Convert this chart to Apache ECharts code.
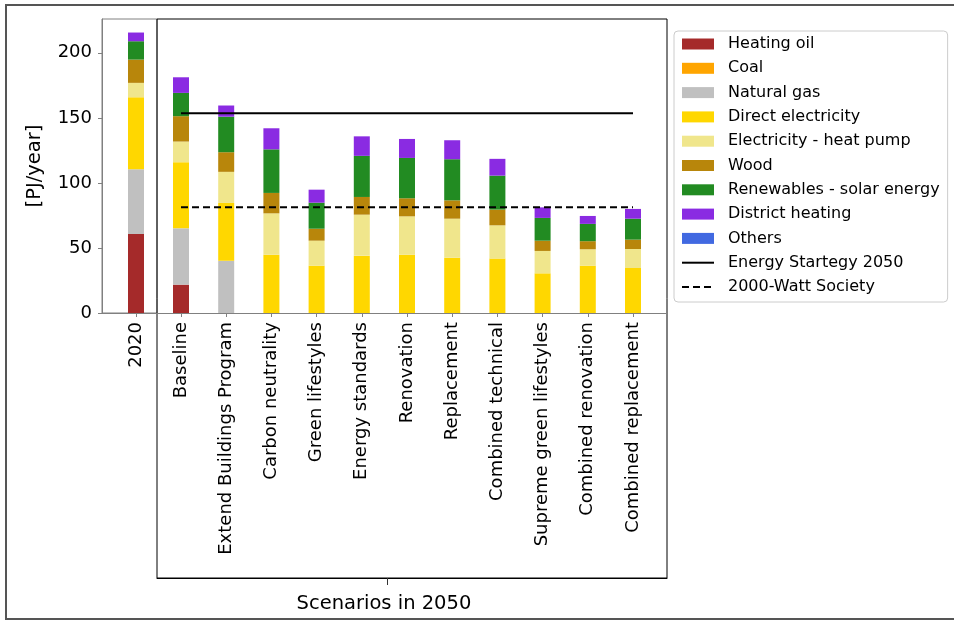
<!DOCTYPE html>
<html>
<head>
<meta charset="utf-8">
<script src="https://cdn.jsdelivr.net/npm/echarts@6/dist/echarts.min.js"></script>
<style>
  html, body { margin: 0; padding: 0; background: #ffffff; }
  #chart { width: 954px; height: 621px; }
</style>
</head>
<body>
<div id="chart"></div>
<script>
// Final energy demand for heating, 2020 and scenarios for 2050 [PJ/year]
const year2020 = ['2020'];
const scenarios = [
  'Baseline', 'Extend Buildings Program', 'Carbon neutrality', 'Green lifestyles',
  'Energy standards', 'Renovation', 'Replacement', 'Combined technical',
  'Supreme green lifestyles', 'Combined renovation', 'Combined replacement'
];

// First entry: 2020, then the 11 scenarios in order
const heatingOil        = [60.8, 21.8, 0, 0, 0, 0, 0, 0, 0, 0, 0, 0];
const coal              = [0, 0, 0, 0, 0, 0, 0, 0, 0, 0, 0, 0];
const naturalGas        = [49.7, 43.3, 40.2, 0, 0, 0, 0, 0, 0, 0, 0, 0];
const directElectricity = [55.3, 50.8, 44.4, 44.8, 36.4, 44.1, 44.8, 42.5, 41.8, 30.5, 36.4, 34.6];
const heatPump          = [11.1, 15.9, 23.9, 31.8, 19.2, 31.5, 29.5, 30.0, 25.6, 17.2, 12.6, 14.6];
const wood              = [17.9, 19.5, 15.1, 15.7, 9.2, 13.6, 13.9, 14.1, 12.1, 7.9, 6.2, 7.2];
const solarRenewables   = [14.1, 17.9, 27.3, 33.5, 20.0, 31.6, 31.0, 31.6, 26.1, 17.5, 13.3, 16.1];
const districtHeating   = [6.7, 12.0, 8.6, 16.2, 10.0, 15.0, 14.6, 14.6, 12.9, 8.1, 6.1, 7.5];
const others            = [0, 0, 0, 0, 0, 0, 0, 0, 0, 0, 0, 0];

// Policy targets
const energyStrategy2050 = 153.5;
const wattSociety2000 = 81.2;

const yTicks = [0, 50, 100, 150, 200];

const FONT = 'DejaVu Sans';
const Y_MAX = 226;

const fuels = [
  { name: 'Heating oil',               color: '#A52A2A', values: heatingOil },
  { name: 'Coal',                      color: '#FFA500', values: coal },
  { name: 'Natural gas',               color: '#C0C0C0', values: naturalGas },
  { name: 'Direct electricity',        color: '#FFD700', values: directElectricity },
  { name: 'Electricity - heat pump',   color: '#F0E68C', values: heatPump },
  { name: 'Wood',                      color: '#B8860B', values: wood },
  { name: 'Renewables - solar energy', color: '#228B22', values: solarRenewables },
  { name: 'District heating',          color: '#8A2BE2', values: districtHeating },
  { name: 'Others',                    color: '#4169E1', values: others }
];

const series = [];
fuels.forEach(function (f) {
  series.push({
    type: 'bar', name: f.name, xAxisIndex: 1, yAxisIndex: 1, stack: 'y2020',
    barWidth: 16, itemStyle: { color: f.color }, silent: true,
    data: f.values.slice(0, year2020.length)
  });
  series.push({
    type: 'bar', name: f.name, xAxisIndex: 2, yAxisIndex: 2, stack: 'y2050',
    barWidth: 16, itemStyle: { color: f.color }, silent: true,
    data: f.values.slice(year2020.length)
  });
});

const firstScenario = scenarios[0];
const lastScenario = scenarios[scenarios.length - 1];
series.push({
  type: 'line', name: 'Energy Startegy 2050', xAxisIndex: 2, yAxisIndex: 2,
  symbol: 'none', silent: true, z: 5,
  itemStyle: { color: '#000' },
  lineStyle: { color: '#000', width: 2 },
  data: [[firstScenario, energyStrategy2050], [lastScenario, energyStrategy2050]]
});
series.push({
  type: 'line', name: '2000-Watt Society', xAxisIndex: 2, yAxisIndex: 2,
  symbol: 'none', silent: true, z: 5,
  itemStyle: { color: '#000' },
  lineStyle: { color: '#000', width: 2, type: [7, 4] },
  data: [[firstScenario, wattSociety2000], [lastScenario, wattSociety2000]]
});

const tickLabel = { fontFamily: FONT, fontSize: 18, color: '#000' };
const spineGray = '#808080';

function hiddenY(gridIndex) {
  return { type: 'value', gridIndex: gridIndex, min: 0, max: Y_MAX, show: false, splitLine: { show: false } };
}
function spineOnlyX(gridIndex, color) {
  return {
    type: 'category', gridIndex: gridIndex, data: [''],
    axisLine: { show: true, onZero: false, lineStyle: { color: color } },
    axisTick: { show: false }, axisLabel: { show: false }, splitLine: { show: false }
  };
}
function barX(gridIndex, cats) {
  return {
    type: 'category', gridIndex: gridIndex, data: cats, boundaryGap: true,
    axisLine: { show: false, onZero: false },
    axisTick: { show: true, alignWithLabel: true, length: 4, interval: 0, lineStyle: { color: spineGray } },
    axisLabel: Object.assign({ rotate: 90, margin: 9, interval: 0 }, tickLabel),
    splitLine: { show: false }
  };
}

const option = {
  animation: false,
  backgroundColor: '#ffffff',
  textStyle: { fontFamily: FONT },
  grid: [
    // 0: frame of the 2020 panel
    { left: 102, top: 19, width: 55, height: 294, show: true, borderColor: spineGray, borderWidth: 1 },
    // 1: 2020 bar
    { left: 115, top: 19, width: 42, height: 294 },
    // 2: scenario bars
    { left: 158.4, top: 19, width: 497.2, height: 294 },
    // 3: outer frame of the scenario panel
    { left: 157, top: 19, width: 510, height: 559, show: true, borderColor: '#000', borderWidth: 1 },
    // 4: baseline spine of the scenario bars
    { left: 157, top: 19, width: 510, height: 294 }
  ],
  xAxis: [
    spineOnlyX(0, spineGray),
    barX(1, year2020),
    barX(2, scenarios),
    {
      type: 'value', gridIndex: 3, min: 0, max: 1,
      splitLine: { show: false },
      axisLine: { show: true, onZero: false, lineStyle: { color: '#000' } },
      axisTick: { show: true, length: 7, lineStyle: { color: '#333' }, customValues: [0.451] },
      axisLabel: {
        show: true, margin: 16, customValues: [0.445],
        formatter: function () { return 'Scenarios in 2050'; },
        fontFamily: FONT, fontSize: 19.5, color: '#000'
      }
    },
    spineOnlyX(4, spineGray)
  ],
  yAxis: [
    {
      type: 'value', gridIndex: 0, min: 0, max: Y_MAX,
      splitLine: { show: false },
      axisLine: { show: true, onZero: false, lineStyle: { color: spineGray } },
      axisTick: { show: true, length: 4, lineStyle: { color: spineGray }, customValues: yTicks },
      axisLabel: Object.assign({ margin: 10, customValues: yTicks }, tickLabel),
      name: '[PJ/year]', nameLocation: 'middle', nameGap: 57,
      nameTextStyle: { fontFamily: FONT, fontSize: 19.5, color: '#000' }
    },
    hiddenY(1),
    hiddenY(2),
    { type: 'value', gridIndex: 3, min: 0, max: 1, show: false, splitLine: { show: false } },
    hiddenY(4)
  ],
  legend: {
    orient: 'vertical', left: 674, top: 31,
    itemWidth: 32, itemHeight: 11, itemGap: 8.3,
    padding: [5, 8, 7, 7],
    borderColor: '#cccccc', borderWidth: 1, borderRadius: 4,
    backgroundColor: '#ffffff',
    selectedMode: false,
    textStyle: { fontFamily: FONT, fontSize: 16, color: '#000', padding: [0, 0, 0, 9] },
    data: fuels.map(function (f) { return { name: f.name, icon: 'rect' }; })
      .concat([
        { name: 'Energy Startegy 2050', itemStyle: { opacity: 0 } },
        { name: '2000-Watt Society', itemStyle: { opacity: 0 } }
      ])
  },
  graphic: [
    {
      type: 'rect', silent: true, z: 100,
      shape: { x: 6, y: 5, width: 960, height: 614 },
      style: { fill: null, stroke: '#555', lineWidth: 2 }
    }
  ],
  series: series
};

const chart = echarts.init(document.getElementById('chart'), null, { renderer: 'canvas' });
chart.setOption(option);
</script>
</body>
</html>
